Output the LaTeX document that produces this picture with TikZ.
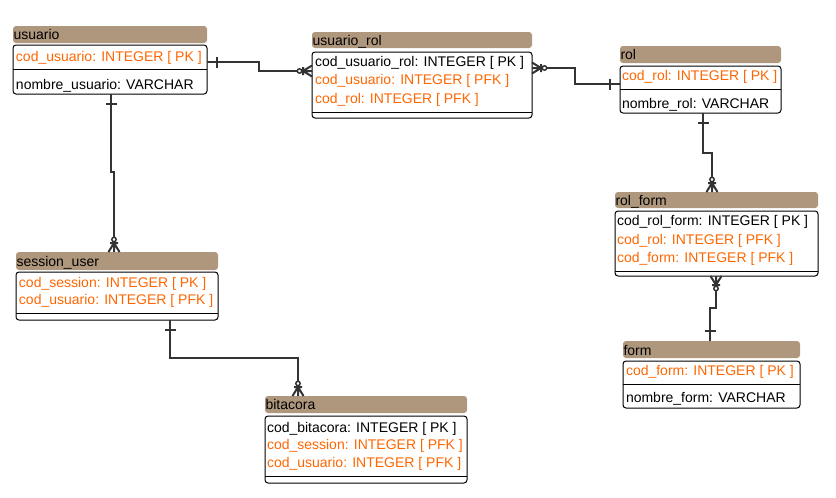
\documentclass[tikz,border=0pt]{standalone}
\usepackage{fontspec}
\setmainfont{Liberation Sans}
\definecolor{hdrtan}{RGB}{175,151,126}
\definecolor{pkorange}{RGB}{255,102,0}
\definecolor{conngray}{RGB}{51,51,51}
\tikzset{
  x=1pt,y=1pt,
  hdr/.style={fill=hdrtan, rounded corners=3pt, inner sep=0pt, outer sep=0pt, anchor=north west},
  body/.style={draw=black, line width=1pt, rounded corners=3pt, inner sep=0pt, outer sep=0pt, anchor=north west, fill=white},
  sepline/.style={draw=black, line width=1pt},
  txt/.style={anchor=base west, inner sep=0pt, outer sep=0pt, font=\fontsize{14}{16}\selectfont},
  fk/.style={txt, text=pkorange},
  cn/.style={draw=conngray, line width=2pt},
  pics/many/.style={code={
    \draw[cn] (0,9)--(-5.5,0) (0,9)--(0,0) (0,9)--(5.5,0) (-4,9)--(4,9);
    \draw[cn, line width=1.5pt, fill=white] (0,12.5) circle (2.2);}},
  pics/one/.style={code={\draw[cn] (-5.5,10)--(5.5,10);}},
}
% name, x1, x2, header top, header bottom, body top, body bottom, separator y
\newcommand\ertable[8]{%
  \node[hdr, minimum width={(#3-#2)*1pt}, minimum height={(#5-#4)*1pt}] (#1h) at (#2,-#4) {};
  \node[body, minimum width={(#3-#2)*1pt}, minimum height={(#7-#6)*1pt}] (#1b) at (#2,-#6) {};
  \draw[sepline] (#1b.west |- 0,-#8) -- (#1b.east |- 0,-#8);
}
\begin{document}
\begin{tikzpicture}
\useasboundingbox (0,0) rectangle (836,-498);

% usuario
\ertable{u}{13}{207}{26}{43}{45}{94}{69}
\node[txt] (ut) at (13.5,-39) {usuario};
\node[fk] (ur1) at (16,-61) {cod\_usuario: INTEGER [ PK ]};
\node[txt] (ur2) at (16,-89) {nombre\_usuario: VARCHAR};

% usuario_rol
\ertable{ur}{312}{532}{32}{48}{52}{118}{112}
\node[txt] (urt) at (312.5,-45) {usuario\_rol};
\node[txt] (urr1) at (315,-66) {cod\_usuario\_rol: INTEGER [ PK ]};
\node[fk] (urr2) at (315,-84) {cod\_usuario: INTEGER [ PFK ]};
\node[fk] (urr3) at (315,-103) {cod\_rol: INTEGER [ PFK ]};

% rol
\ertable{r}{620}{781}{46}{63}{66}{113}{89}
\node[txt] (rt) at (620.5,-59) {rol};
\node[fk] (rr1) at (622,-80) {cod\_rol: INTEGER [ PK ]};
\node[txt] (rr2) at (622,-108) {nombre\_rol: VARCHAR};

% rol_form
\ertable{rf}{615}{818}{192}{208}{211}{276}{271}
\node[txt] (rft) at (615.5,-205) {rol\_form};
\node[txt] (rfr1) at (617,-225) {cod\_rol\_form: INTEGER [ PK ]};
\node[fk] (rfr2) at (617,-244) {cod\_rol: INTEGER [ PFK ]};
\node[fk] (rfr3) at (617,-262) {cod\_form: INTEGER [ PFK ]};

% form
\ertable{f}{623}{800}{341}{358}{361}{408}{384}
\node[txt] (ft) at (623.5,-355) {form};
\node[fk] (fr1) at (626,-375) {cod\_form: INTEGER [ PK ]};
\node[txt] (fr2) at (626,-402) {nombre\_form: VARCHAR};

% session_user
\ertable{s}{16}{218}{252}{270}{272}{320}{313}
\node[txt] (st) at (16.5,-266) {session\_user};
\node[fk] (sr1) at (19,-287) {cod\_session: INTEGER [ PK ]};
\node[fk] (sr2) at (19,-304) {cod\_usuario: INTEGER [ PFK ]};

% bitacora
\ertable{b}{265}{467}{396}{413}{416}{483}{476}
\node[txt] (bt) at (265.5,-409) {bitacora};
\node[txt] (br1) at (267,-432) {cod\_bitacora: INTEGER [ PK ]};
\node[fk] (br2) at (267,-449) {cod\_session: INTEGER [ PFK ]};
\node[fk] (br3) at (267,-467) {cod\_usuario: INTEGER [ PFK ]};

% connectors
% usuario -> usuario_rol
\draw[cn] (ub.east |- 0,-62) -- (259,-62) -- (259,-71) -- (urb.west |- 0,-71);
\pic[rotate=-90] at (ub.east |- 0,-62) {one};
\pic[rotate=90] at (urb.west |- 0,-71) {many};
% usuario_rol -> rol
\draw[cn] (urb.east |- 0,-68) -- (575,-68) -- (575,-84) -- (rb.west |- 0,-84);
\pic[rotate=-90] at (urb.east |- 0,-68) {many};
\pic[rotate=90] at (rb.west |- 0,-84) {one};
% rol -> rol_form
\draw[cn] (rb.south -| 703,0) -- (703,-153) -- (712,-153) -- (rfh.north -| 712,0);
\pic[rotate=180] at (rb.south -| 703,0) {one};
\pic at (rfh.north -| 712,0) {many};
% rol_form -> form
\draw[cn] (rfb.south -| 716,0) -- (716,-308) -- (710,-308) -- (fh.north -| 710,0);
\pic[rotate=180] at (rfb.south -| 716,0) {many};
\pic at (fh.north -| 710,0) {one};
% usuario -> session_user
\draw[cn] (ub.south -| 111,0) -- (111,-172) -- (114,-172) -- (sh.north -| 114,0);
\pic[rotate=180] at (ub.south -| 111,0) {one};
\pic at (sh.north -| 114,0) {many};
% session_user -> bitacora
\draw[cn] (sb.south -| 170,0) -- (170,-358) -- (298,-358) -- (bh.north -| 298,0);
\pic[rotate=180] at (sb.south -| 170,0) {one};
\pic at (bh.north -| 298,0) {many};
\end{tikzpicture}
\end{document}
